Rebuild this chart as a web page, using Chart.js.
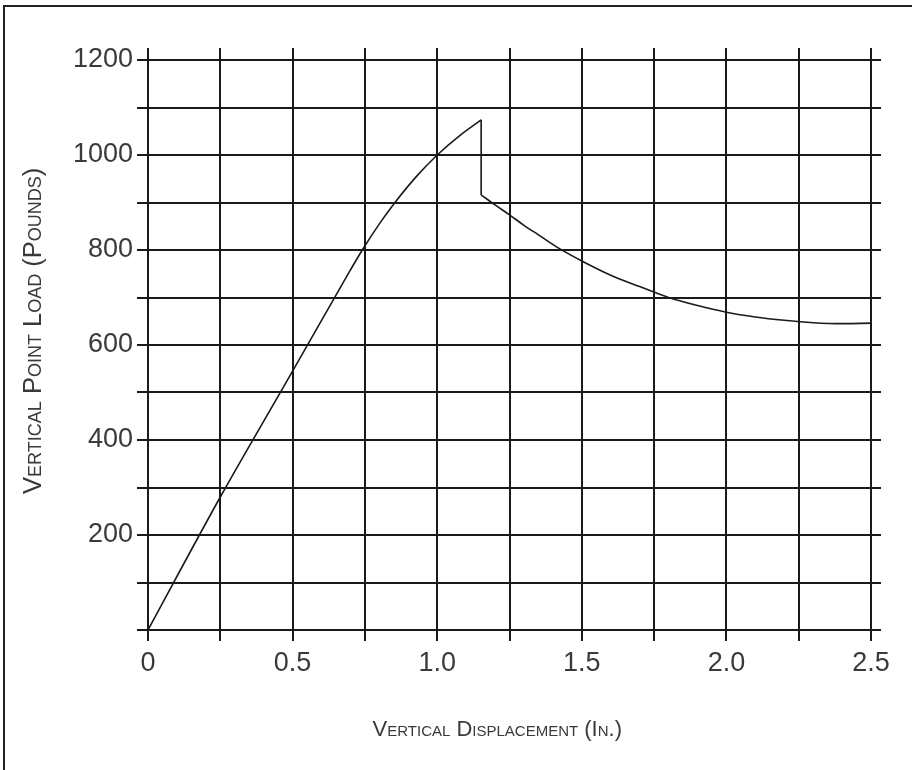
<!DOCTYPE html>
<html>
<head>
<meta charset="utf-8">
<script src="https://cdn.jsdelivr.net/npm/chart.js@4"></script>
<style>
  html, body { margin: 0; padding: 0; background: #fff; }
  #frame {
    position: absolute; left: 3px; top: 5px; right: 0; bottom: 0;
    border-left: 2px solid #222; border-top: 2px solid #222;
  }
  #chart { position: absolute; left: 0; top: 0; }
</style>
</head>
<body>
<div id="frame"></div>
<canvas id="chart" width="912" height="770"></canvas>
<script>
// rising branch (in., lb)
const riseX = [0, 0.25, 0.5, 0.7, 0.741, 0.8, 0.854, 0.93, 1.0, 1.08, 1.152];
const riseY = [0, 280, 545, 758, 800, 855, 900, 956, 1000, 1042, 1074];
// branch after the drop
const decayX = [1.152, 1.2, 1.25, 1.3, 1.35, 1.42, 1.5, 1.6, 1.7, 1.8, 1.9, 2.0, 2.1, 2.2, 2.3, 2.4, 2.5];
const decayY = [916, 895, 874, 852, 832, 804, 777, 747, 723, 700, 683, 669, 659, 652, 647, 645, 646];

const xTickValues = [0, 0.5, 1.0, 1.5, 2.0, 2.5];
const xTickLabels = ["0", "0.5", "1.0", "1.5", "2.0", "2.5"];
const yTickValues = [200, 400, 600, 800, 1000, 1200];
const yTickLabels = ["200", "400", "600", "800", "1000", "1200"];

const xTitle = "Vertical Displacement (In.)";
const yTitle = "Vertical Point Load (Pounds)";

const ink = "#1a1a1a";
const textInk = "#3a3a3a";
const family = "'Liberation Sans', Arial, sans-serif";

function toPoints(xs, ys) {
  return xs.map((x, i) => ({ x: x, y: ys[i] }));
}

function findLabel(values, labels, v) {
  const i = values.findIndex((t) => Math.abs(t - v) < 1e-6);
  return i < 0 ? "" : labels[i];
}

const lineStyle = {
  borderColor: ink,
  borderWidth: 1.6,
  pointRadius: 0,
  fill: false,
};

const grid = {
  color: ink,
  lineWidth: 2,
  drawTicks: true,
};

new Chart("chart", {
  type: "line",
  data: {
    datasets: [
      { ...lineStyle, data: toPoints(riseX, riseY), cubicInterpolationMode: "monotone" },
      {
        ...lineStyle,
        data: toPoints(
          [riseX[riseX.length - 1], decayX[0]],
          [riseY[riseY.length - 1], decayY[0]]
        ),
      },
      { ...lineStyle, data: toPoints(decayX, decayY), cubicInterpolationMode: "monotone" },
    ],
  },
  options: {
    responsive: false,
    animation: false,
    layout: { padding: 0 },
    plugins: { legend: { display: false }, tooltip: { enabled: false } },
    scales: {
      x: {
        type: "linear",
        position: "bottom",
        min: 0,
        max: 2.5,
        afterFit: (s) => { s.height = 140; },
        grid: { ...grid, tickLength: 11 },
        border: { color: ink, width: 2 },
        ticks: {
          stepSize: 0.25,
          autoSkip: false,
          maxRotation: 0,
          padding: 6,
          color: textInk,
          font: { family: family, size: 27 },
          callback: (v) => findLabel(xTickValues, xTickLabels, v),
        },
        title: {
          display: true,
          // trailing spaces nudge the title a little to the left, like the original
          text: xTitle + "    ",
          color: textInk,
          font: { family: family, size: 22, weight: "small-caps" },
          padding: { top: 0, bottom: 27 },
        },
      },
      xTop: {
        type: "linear",
        position: "top",
        min: 0,
        max: 2.5,
        afterFit: (s) => { s.height = 60; },
        grid: { ...grid, drawOnChartArea: false, tickLength: 12 },
        border: { color: ink, width: 2 },
        ticks: { stepSize: 0.25, autoSkip: false, display: false },
      },
      y: {
        type: "linear",
        position: "left",
        min: 0,
        max: 1200,
        afterFit: (s) => { s.width = 148; },
        grid: { ...grid, tickLength: 11 },
        border: { color: ink, width: 2 },
        ticks: {
          stepSize: 100,
          autoSkip: false,
          padding: 4,
          color: textInk,
          font: { family: family, size: 27 },
          callback: (v) => findLabel(yTickValues, yTickLabels, v),
        },
        title: {
          display: true,
          text: "    " + yTitle,
          color: textInk,
          font: { family: family, size: 25.5, weight: "small-caps" },
          padding: { top: 19, bottom: 0 },
        },
      },
      yRight: {
        type: "linear",
        position: "right",
        min: 0,
        max: 1200,
        afterFit: (s) => { s.width = 41; },
        grid: { ...grid, drawOnChartArea: false, tickLength: 10 },
        border: { color: ink, width: 2 },
        ticks: { stepSize: 100, autoSkip: false, display: false },
      },
    },
  },
});
</script>
</body>
</html>
